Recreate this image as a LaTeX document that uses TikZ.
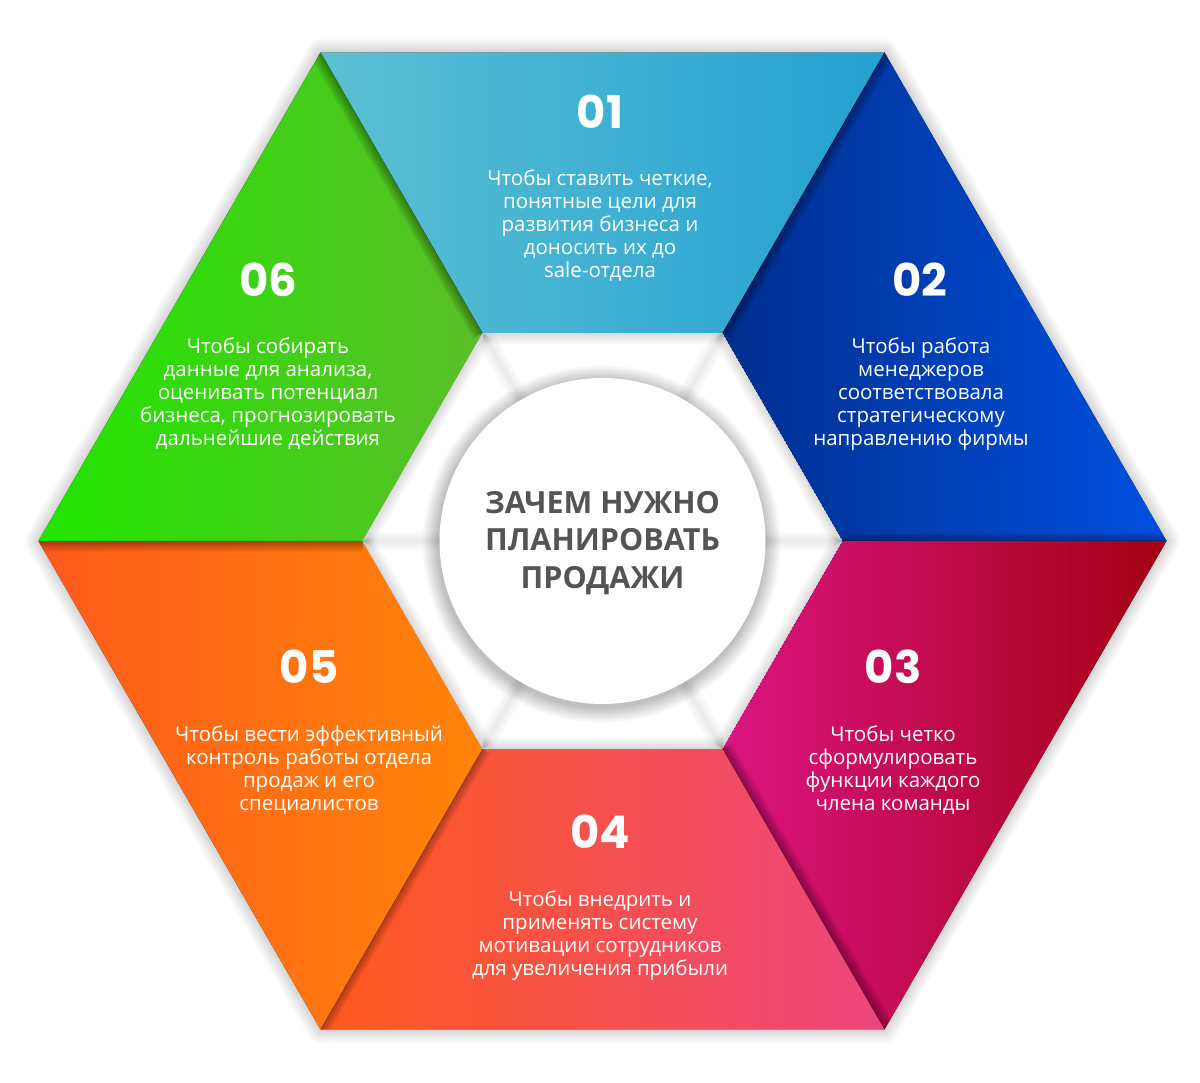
\documentclass[tikz,border=0pt]{standalone}
\usepackage{fontspec}
\setmainfont{Open Sans}
\newfontfamily\numfont{Poppins}
\usetikzlibrary{calc}
\definecolor{cAl}{HTML}{5CC0D4}\definecolor{cAr}{HTML}{24A0D2}
\definecolor{cBl}{HTML}{002F8E}\definecolor{cBr}{HTML}{0050E0}
\definecolor{cCl}{HTML}{DC1482}\definecolor{cCr}{HTML}{A30012}
\definecolor{cDl}{HTML}{FF5A1C}\definecolor{cDr}{HTML}{EC467F}
\definecolor{cEl}{HTML}{FF5A1C}\definecolor{cEr}{HTML}{FF850A}
\definecolor{cFl}{HTML}{20E600}\definecolor{cFr}{HTML}{5CBE2A}
\definecolor{titlegray}{HTML}{545454}
\newcommand\edgeshadow[4]{%
  \begin{scope}
    \clip #1;
    \foreach \w in {2,4,...,#4} \draw[black, opacity=0.035, line width=\w pt] (#2)--(#3);
  \end{scope}}
\begin{document}
\begin{tikzpicture}[x=1pt,y=1pt,
  num/.style={font=\numfont\bfseries\fontsize{45}{45}\selectfont, text=white, inner sep=0pt},
  body/.style={font=\fontsize{20.5}{23}\selectfont, text=white, align=center, inner sep=0pt},
  titletext/.style={font=\bfseries\fontsize{30.5}{37.5}\selectfont, text=titlegray, align=center, inner sep=0pt}]
\fill[white] (0,0) rectangle (1200,1083);
\useasboundingbox (0,0) rectangle (1200,1083);
\coordinate (C) at (602.5,542);
\foreach \n/\a in {a/0,b/60,c/120,d/180,e/240,f/300}{
  \coordinate (O\n) at ($(C)+(\a:564)$);
  \coordinate (I\n) at ($(C)+(\a:240)$);
}
% outer soft shadow
\foreach \w in {2,4,...,28}
  \draw[black, opacity=0.012, line width=\w pt, line join=round] (Oa)--(Ob)--(Oc)--(Od)--(Oe)--(Of)--cycle;
\fill[white] (Oa)--(Ob)--(Oc)--(Od)--(Oe)--(Of)--cycle;
% segments
\fill[left color=cAl, right color=cAr] (Oc)--(Ob)--(Ib)--(Ic)--cycle;
\fill[left color=cBl, right color=cBr] (Ob)--(Oa)--(Ia)--(Ib)--cycle;
\fill[left color=cCl, right color=cCr] (Oa)--(Of)--(If)--(Ia)--cycle;
\fill[left color=cDl, right color=cDr] (Of)--(Oe)--(Ie)--(If)--cycle;
\fill[left color=cEl, right color=cEr] (Oe)--(Od)--(Id)--(Ie)--cycle;
\fill[left color=cFl, right color=cFr] (Od)--(Oc)--(Ic)--(Id)--cycle;
% shadows between segments
\edgeshadow{(Od)--(Oc)--(Ic)--(Id)--cycle}{Oc}{Ic}{22}
\edgeshadow{(Ob)--(Oa)--(Ia)--(Ib)--cycle}{Ob}{Ib}{22}
\edgeshadow{(Ob)--(Oa)--(Ia)--(Ib)--cycle}{Oa}{Ia}{18}
\edgeshadow{(Oa)--(Of)--(If)--(Ia)--cycle}{Of}{If}{22}
\edgeshadow{(Of)--(Oe)--(Ie)--(If)--cycle}{Oe}{Ie}{18}
\edgeshadow{(Oe)--(Od)--(Id)--(Ie)--cycle}{Od}{Id}{22}
% inner white area with soft shadows
\begin{scope}
  \clip (Ia)--(Ib)--(Ic)--(Id)--(Ie)--(If)--cycle;
  \fill[white] (Ia)--(Ib)--(Ic)--(Id)--(Ie)--(If)--cycle;
  \foreach \p/\q in {Ia/Ib,Ib/Ic,Ic/Id,Id/Ie,Ie/If,If/Ia}
    \foreach \w in {2,4,...,24} \draw[black, opacity=0.012, line width=\w pt] (\p)--(\q);
  \foreach \p in {Ia,Ib,Ic,Id,Ie,If}
    \foreach \w in {2,4,...,20} \draw[black, opacity=0.009, line width=\w pt] (\p)--(C);
  \foreach \r in {1,...,16}
    \fill[black, opacity=0.016] ($(C)+(-1,-3)$) circle (163+\r);
  \fill[white] (C) circle (163);
\end{scope}
% title
\node[titletext] (title) at (602.5,540) {ЗАЧЕМ НУЖНО\\ПЛАНИРОВАТЬ\\ПРОДАЖИ};
% numbers and texts
\node[num] (n1) at (600,971) {01};
\node[body] (t1) at (600,857) {Чтобы ставить четкие,\\понятные цели для\\развития бизнеса и\\доносить их до\\sale-отдела};
\node[num] (n2) at (920,803) {02};
\node[body] (t2) at (921,689) {Чтобы работа\\менеджеров\\соответствовала\\стратегическому\\направлению фирмы};
\node[num] (n3) at (893,416) {03};
\node[body] (t3) at (893,312.5) {Чтобы четко\\сформулировать\\функции каждого\\члена команды};
\node[num] (n4) at (600,251) {04};
\node[body] (t4) at (600,147.5) {Чтобы внедрить и\\применять систему\\мотивации сотрудников\\для увеличения прибыли};
\node[num] (n5) at (309,416) {05};
\node[body] (t5) at (309,312.5) {Чтобы вести эффективный\\контроль работы отдела\\продаж и его\\специалистов};
\node[num] (n6) at (268,803) {06};
\node[body] (t6) at (268,689) {Чтобы собирать\\данные для анализа,\\оценивать потенциал\\бизнеса, прогнозировать\\дальнейшие действия};
\end{tikzpicture}
\end{document}
